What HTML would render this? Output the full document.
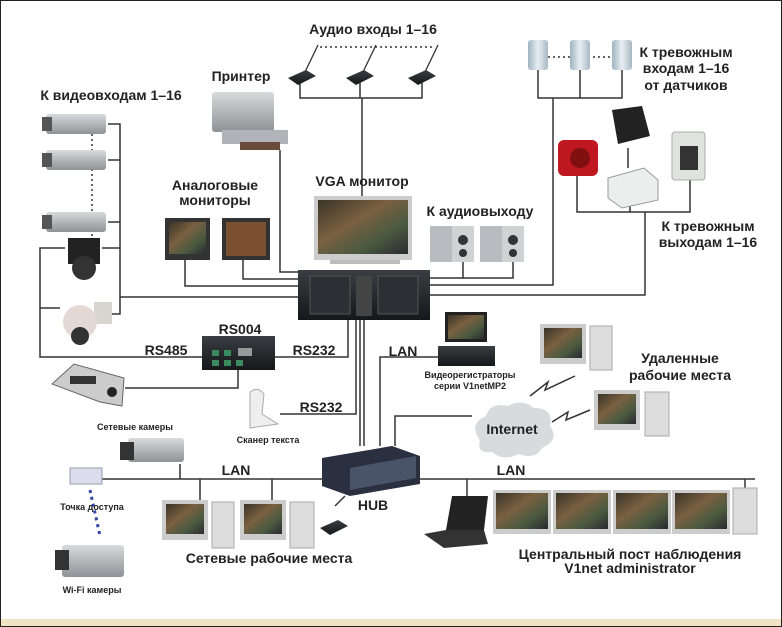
<!DOCTYPE html>
<html><head><meta charset="utf-8"><style>
html,body{margin:0;padding:0;background:#fff}
svg{display:block}
text{font-family:"Liberation Sans",sans-serif;font-weight:bold;fill:#222}
</style></head><body>
<svg width="782" height="627" viewBox="0 0 782 627" xmlns="http://www.w3.org/2000/svg">
<defs>
<linearGradient id="gm" x1="0" y1="0" x2="0" y2="1"><stop offset="0" stop-color="#d8dadc"/><stop offset="1" stop-color="#8e9296"/></linearGradient>
<linearGradient id="scr" x1="0" y1="0" x2="1" y2="1"><stop offset="0" stop-color="#3a3428"/><stop offset=".4" stop-color="#7a6040"/><stop offset=".7" stop-color="#4a5a40"/><stop offset="1" stop-color="#2a2a30"/></linearGradient>
<linearGradient id="dk" x1="0" y1="0" x2="0" y2="1"><stop offset="0" stop-color="#3a3d42"/><stop offset="1" stop-color="#15171a"/></linearGradient>
<linearGradient id="sn" x1="0" y1="0" x2="1" y2="0"><stop offset="0" stop-color="#9fb4c2"/><stop offset=".5" stop-color="#e8eef2"/><stop offset="1" stop-color="#a8b8c4"/></linearGradient>
</defs>
<rect x="0.5" y="0.5" width="781" height="626" fill="#fff" stroke="#222"/>
<rect x="1" y="619" width="780" height="7" fill="#f1e4c4"/>

<g stroke="#333" stroke-width="1.5" fill="none">
<!-- audio -->
<line x1="320" y1="47" x2="435" y2="47" stroke-dasharray="2,3"/>
<polyline points="300,82 300,98 422,98 422,82"/><line x1="360" y1="82" x2="360" y2="98"/>
<line x1="362" y1="98" x2="362" y2="196"/>
<!-- printer -->
<polyline points="280,150 280,272 298,272"/>
<!-- cameras -->
<polyline points="108,124 120,124 120,314 108,314"/>
<line x1="108" y1="160" x2="120" y2="160"/><line x1="108" y1="222" x2="120" y2="222"/><line x1="102" y1="248" x2="120" y2="248"/>
<line x1="120" y1="297" x2="298" y2="297"/>
<line x1="92" y1="134" x2="92" y2="236" stroke-dasharray="2,3"/>
<polyline points="65,248 40,248 40,357 202,357"/><line x1="40" y1="308" x2="60" y2="308"/>
<!-- analog monitors -->
<polyline points="185,260 185,286 298,286"/><polyline points="243,260 243,279 298,279"/>
<!-- speakers -->
<polyline points="463,262 463,278 513,278 513,262"/><line x1="430" y1="278" x2="463" y2="278"/>
<!-- sensors -->
<line x1="548" y1="57" x2="612" y2="57" stroke-dasharray="2,3"/>
<polyline points="538,70 538,98 622,98 622,70"/><line x1="580" y1="70" x2="580" y2="98"/>
<polyline points="553,98 553,285 430,285"/>
<!-- alarm outputs -->
<polyline points="577,176 577,212 690,212 690,180"/><line x1="630" y1="204" x2="630" y2="212"/><line x1="628" y1="148" x2="628" y2="168"/>
<polyline points="645,212 645,295 430,295"/>
<!-- RS -->
<polyline points="275,357 348,357 348,320"/>
<polyline points="125,388 238,388 238,370"/>
<polyline points="280,414 356,414 356,320"/>
<line x1="360" y1="320" x2="360" y2="446"/><line x1="364" y1="320" x2="364" y2="446"/>
<polyline points="380,446 380,357 438,357"/>
<polyline points="395,446 395,416 472,416"/>
<!-- LAN -->
<line x1="100" y1="479" x2="322" y2="479"/><line x1="420" y1="479" x2="755" y2="479"/>
<line x1="180" y1="464" x2="180" y2="479"/><line x1="200" y1="479" x2="200" y2="500"/><line x1="272" y1="479" x2="272" y2="500"/>
<line x1="467" y1="479" x2="467" y2="496"/><line x1="745" y1="479" x2="745" y2="490"/>
<line x1="335" y1="506" x2="345" y2="496"/>
<line x1="90" y1="490" x2="100" y2="536" stroke="#3344aa" stroke-width="3" stroke-dasharray="3,4"/>
<polyline points="530,396 548,382 545,390 575,376" stroke-width="1.5"/>
<polyline points="552,422 568,412 566,420 590,410"/>
</g>

<!-- mics -->
<g fill="url(#dk)"><path d="M288,78 l18,-8 l10,6 l-18,9z"/><path d="M346,78 l18,-8 l10,6 l-18,9z"/><path d="M408,78 l18,-8 l10,6 l-18,9z"/><path d="M320,528 l18,-8 l10,6 l-18,9z"/></g>
<g stroke="#333" stroke-width="1.3"><line x1="305" y1="72" x2="318" y2="45"/><line x1="363" y1="72" x2="376" y2="45"/><line x1="425" y1="72" x2="438" y2="45"/></g>

<!-- printer -->
<rect x="212" y="92" width="62" height="40" fill="url(#gm)" rx="3"/><rect x="222" y="130" width="66" height="14" fill="#b0b4b8"/><rect x="240" y="142" width="40" height="8" fill="#6a4a3a"/>
<!-- cameras -->
<g fill="url(#gm)"><rect x="46" y="114" width="60" height="20" rx="3"/><rect x="46" y="150" width="60" height="20" rx="3"/><rect x="46" y="212" width="60" height="20" rx="3"/></g>
<g fill="#555"><rect x="42" y="117" width="10" height="14"/><rect x="42" y="153" width="10" height="14"/><rect x="42" y="215" width="10" height="14"/></g>
<rect x="68" y="238" width="32" height="26" fill="#222"/><circle cx="84" cy="268" r="12" fill="#333"/>
<rect x="94" y="302" width="18" height="22" fill="#d8d4d0"/><circle cx="80" cy="322" r="17" fill="#e4d8d4"/><circle cx="80" cy="336" r="9" fill="#333"/>
<!-- analog monitors -->
<rect x="165" y="218" width="45" height="42" fill="#333"/><rect x="169" y="222" width="37" height="32" fill="url(#scr)"/>
<rect x="222" y="218" width="48" height="42" fill="#333"/><rect x="226" y="222" width="40" height="34" fill="#7a5030"/>
<!-- VGA monitor -->
<rect x="314" y="196" width="98" height="64" fill="#ccc"/><rect x="318" y="200" width="90" height="54" fill="url(#scr)"/><rect x="330" y="260" width="70" height="4" fill="#bbb"/>
<!-- speakers -->
<g><rect x="430" y="226" width="22" height="36" fill="#b8bcc0"/><rect x="452" y="226" width="22" height="36" fill="#d0d2d4"/><circle cx="463" cy="240" r="5" fill="#333"/><circle cx="463" cy="253" r="4" fill="#333"/>
<rect x="480" y="226" width="22" height="36" fill="#b8bcc0"/><rect x="502" y="226" width="22" height="36" fill="#d0d2d4"/><circle cx="513" cy="240" r="5" fill="#333"/><circle cx="513" cy="253" r="4" fill="#333"/></g>
<!-- server -->
<rect x="298" y="270" width="132" height="50" fill="url(#dk)"/><rect x="310" y="276" width="40" height="38" fill="#2c2f33" stroke="#555"/><rect x="378" y="276" width="40" height="38" fill="#2c2f33" stroke="#555"/><rect x="356" y="276" width="16" height="40" fill="#444"/>
<!-- sensors -->
<g fill="url(#sn)"><rect x="528" y="40" width="20" height="30" rx="3"/><rect x="570" y="40" width="20" height="30" rx="3"/><rect x="612" y="40" width="20" height="30" rx="3"/></g>
<!-- alarm devices -->
<rect x="558" y="140" width="40" height="36" rx="6" fill="#c01820"/><circle cx="580" cy="158" r="10" fill="#801010"/>
<path d="M612,110 l30,-4 l8,30 l-32,8z" fill="#222"/>
<path d="M608,178 l36,-10 l14,12 v20 l-36,8 l-14,-10z" fill="#eceeee" stroke="#999"/>
<rect x="672" y="132" width="33" height="48" rx="3" fill="#e0e2e0" stroke="#aaa"/><g fill="#333"><rect x="680" y="146" width="18" height="24"/></g>
<!-- RS004 -->
<rect x="202" y="336" width="73" height="34" fill="url(#dk)"/><g fill="#3a8a60"><rect x="212" y="350" width="7" height="6"/><rect x="224" y="350" width="7" height="6"/><rect x="212" y="360" width="7" height="6"/><rect x="224" y="360" width="7" height="6"/><rect x="236" y="360" width="7" height="6"/></g><rect x="238" y="348" width="14" height="8" fill="#999"/>
<!-- keyboard -->
<path d="M52,384 l22,-20 l50,14 l-2,28 l-22,-4z" fill="#ccc" stroke="#666"/><rect x="70" y="376" width="26" height="8" fill="#333"/><circle cx="112" cy="392" r="5" fill="#222"/>
<!-- scanner -->
<path d="M250,392 q8,-6 14,2 l-2,20 l16,10 l-28,4z" fill="#eee" stroke="#aaa"/>
<!-- videorecorder -->
<rect x="445" y="312" width="42" height="30" fill="#222"/><rect x="448" y="315" width="36" height="24" fill="url(#scr)"/><rect x="438" y="346" width="57" height="20" fill="url(#dk)"/>
<!-- remote PCs -->
<rect x="540" y="324" width="46" height="40" fill="#ccc"/><rect x="544" y="328" width="38" height="30" fill="url(#scr)"/><rect x="590" y="326" width="22" height="44" fill="#ddd" stroke="#aaa"/>
<rect x="594" y="390" width="46" height="40" fill="#ccc"/><rect x="598" y="394" width="38" height="30" fill="url(#scr)"/><rect x="645" y="392" width="24" height="44" fill="#ddd" stroke="#aaa"/>
<!-- cloud -->
<path d="M480,440 q-12,-16 6,-24 q4,-14 22,-10 q14,-8 26,2 q20,0 16,18 q10,14 -8,22 q-6,12 -24,6 q-14,8 -26,-2 q-16,2 -12,-12z" fill="#d8dadc"/>
<!-- hub -->
<path d="M322,458 l70,-12 l28,10 v28 l-70,12 l-28,-10z" fill="#2a3040"/><path d="M350,468 l66,-12 v22 l-66,12z" fill="#4a5468"/>
<!-- net camera, AP, wifi cam -->
<rect x="128" y="438" width="56" height="24" rx="3" fill="url(#gm)"/><rect x="120" y="442" width="14" height="18" fill="#333"/>
<rect x="70" y="468" width="32" height="16" fill="#dde" stroke="#99a"/>
<rect x="62" y="545" width="62" height="32" rx="3" fill="url(#gm)"/><rect x="55" y="550" width="14" height="20" fill="#333"/>
<!-- net workstations -->
<rect x="162" y="500" width="46" height="40" fill="#ccc"/><rect x="166" y="504" width="38" height="30" fill="url(#scr)"/><rect x="212" y="502" width="22" height="46" fill="#ddd" stroke="#aaa"/>
<rect x="240" y="500" width="46" height="40" fill="#ccc"/><rect x="244" y="504" width="38" height="30" fill="url(#scr)"/><rect x="290" y="502" width="24" height="46" fill="#ddd" stroke="#aaa"/>
<!-- laptop -->
<path d="M452,496 l36,0 l-4,34 l-38,0z" fill="#222"/><path d="M424,534 l22,-4 l38,0 l4,14 l-44,4z" fill="#333"/>
<!-- central -->
<g><rect x="493" y="490" width="58" height="44" fill="#ccc"/><rect x="496" y="493" width="52" height="36" fill="url(#scr)"/>
<rect x="553" y="490" width="58" height="44" fill="#ccc"/><rect x="556" y="493" width="52" height="36" fill="url(#scr)"/>
<rect x="613" y="490" width="58" height="44" fill="#ccc"/><rect x="616" y="493" width="52" height="36" fill="url(#scr)"/>
<rect x="672" y="490" width="58" height="44" fill="#ccc"/><rect x="675" y="493" width="52" height="36" fill="url(#scr)"/>
<rect x="733" y="488" width="24" height="46" fill="#ddd" stroke="#aaa"/></g>

<!-- labels -->
<g font-size="14">
<text x="373" y="34" text-anchor="middle">Аудио входы 1–16</text>
<text x="241" y="81" text-anchor="middle">Принтер</text>
<text x="111" y="100" text-anchor="middle">К видеовходам 1–16</text>
<text x="215" y="190" text-anchor="middle">Аналоговые</text>
<text x="215" y="205" text-anchor="middle">мониторы</text>
<text x="362" y="186" text-anchor="middle">VGA монитор</text>
<text x="480" y="216" text-anchor="middle">К аудиовыходу</text>
<text x="686" y="57" text-anchor="middle">К тревожным</text>
<text x="686" y="73" text-anchor="middle">входам 1–16</text>
<text x="686" y="90" text-anchor="middle">от датчиков</text>
<text x="708" y="231" text-anchor="middle">К тревожным</text>
<text x="708" y="247" text-anchor="middle">выходам 1–16</text>
<text x="240" y="334" text-anchor="middle">RS004</text>
<text x="166" y="355" text-anchor="middle">RS485</text>
<text x="314" y="355" text-anchor="middle">RS232</text>
<text x="321" y="412" text-anchor="middle">RS232</text>
<text x="403" y="356" text-anchor="middle">LAN</text>
<text x="680" y="363" text-anchor="middle">Удаленные</text>
<text x="680" y="380" text-anchor="middle">рабочие места</text>
<text x="512" y="434" text-anchor="middle">Internet</text>
<text x="236" y="475" text-anchor="middle">LAN</text>
<text x="511" y="475" text-anchor="middle">LAN</text>
<text x="373" y="510" text-anchor="middle">HUB</text>
<text x="269" y="563" text-anchor="middle">Сетевые рабочие места</text>
<text x="630" y="559" text-anchor="middle">Центральный пост наблюдения</text>
<text x="630" y="573" text-anchor="middle">V1net administrator</text>
</g>
<g font-size="9">
<text x="470" y="378" text-anchor="middle">Видеорегистраторы</text>
<text x="470" y="389" text-anchor="middle">серии V1netMP2</text>
<text x="268" y="443" text-anchor="middle">Сканер текста</text>
<text x="135" y="430" text-anchor="middle">Сетевые камеры</text>
<text x="92" y="510" text-anchor="middle">Точка доступа</text>
<text x="92" y="593" text-anchor="middle">Wi-Fi камеры</text>
</g>
</svg>
</body></html>
